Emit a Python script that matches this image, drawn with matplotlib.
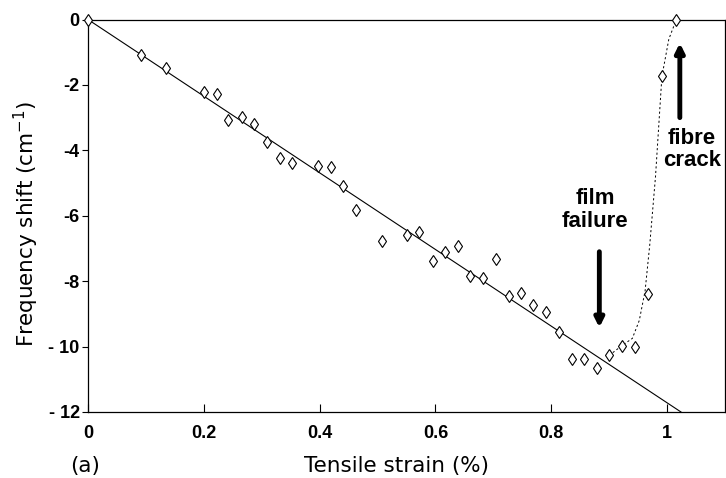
import matplotlib
matplotlib.use("Agg")
import matplotlib.pyplot as plt
import numpy as np

# measured Raman shift vs strain
strain = [0.0, 0.092, 0.135, 0.200, 0.223, 0.242, 0.266, 0.287, 0.309, 0.332,
          0.352, 0.397, 0.420, 0.440, 0.463, 0.508, 0.551, 0.572, 0.596, 0.617,
          0.639, 0.660, 0.682, 0.705, 0.727, 0.748, 0.769, 0.791, 0.813, 0.836,
          0.857, 0.879, 0.900, 0.922, 0.945, 0.967, 0.991, 1.016]
shift = [0.0, -1.08, -1.48, -2.21, -2.27, -3.07, -2.98, -3.19, -3.74, -4.23,
         -4.38, -4.47, -4.50, -5.08, -5.82, -6.76, -6.58, -6.49, -7.37, -7.10,
         -6.92, -7.83, -7.89, -7.31, -8.44, -8.35, -8.72, -8.93, -9.54, -10.37,
         -10.37, -10.67, -10.27, -9.97, -10.00, -8.38, -1.73, 0.0]

# straight line fit
fit_x = [0.0, 1.024]
fit_y = [0.0, -12.0]

# dotted curve after film failure
curve_x = [0.900, 0.922, 0.940, 0.952, 0.962, 0.970, 0.980, 0.991, 1.003, 1.016]
curve_y = [-10.27, -9.97, -9.75, -9.2, -8.3, -6.9, -4.8, -1.75, -0.6, 0.0]

xticks = [0, 0.2, 0.4, 0.6, 0.8, 1.0]
xticklabels = ["0", "0.2", "0.4", "0.6", "0.8", "1"]
yticks = [0, -2, -4, -6, -8, -10, -12]
yticklabels = ["0", "-2", "-4", "-6", "-8", "- 10", "- 12"]

fig = plt.figure(figsize=(7.26, 4.78), dpi=100)
ax = fig.add_axes([88 / 726, 1 - 412 / 478, 637 / 726, (412 - 19.5) / 478])

ax.plot(fit_x, fit_y, color="black", lw=0.8)
ax.plot(curve_x, curve_y, color="black", lw=0.7, linestyle=(0, (2.2, 2.5)))
ax.plot(strain, shift, linestyle="none", marker="d", ms=6.5,
        markerfacecolor="white", markeredgecolor="black", mew=0.8,
        clip_on=False, zorder=3)

ax.set_xlim(0, 1.1)
ax.set_ylim(-12, 0)
ax.set_xticks(xticks)
ax.set_xticklabels(xticklabels, fontsize=13, fontweight="bold",
                   family="Liberation Sans")
ax.set_yticks(yticks)
ax.set_yticklabels(yticklabels, fontsize=13, fontweight="bold",
                   family="Liberation Sans")
ax.tick_params(axis="x", direction="in", length=6, width=0.8, pad=9)
ax.tick_params(axis="y", direction="out", length=4, width=0.8, pad=2)
for s in ax.spines.values():
    s.set_linewidth(0.9)

# arrows and notes
arrow = dict(arrowstyle="-|>", lw=3.5, color="black", mutation_scale=13,
             shrinkA=0, shrinkB=0)
ax.annotate("", xy=(0.883, -9.42), xytext=(0.883, -7.1), arrowprops=arrow)
ax.annotate("", xy=(1.022, -0.72), xytext=(1.022, -3.0), arrowprops=arrow)
ax.text(0.876, -5.82, "film\nfailure", ha="center", va="center",
        fontsize=16, fontweight="bold", family="Liberation Sans",
        linespacing=1.1)
ax.text(1.043, -3.98, "fibre\ncrack", ha="center", va="center",
        fontsize=16, fontweight="bold", family="Liberation Sans",
        linespacing=1.1)

fig.text(397 / 726, 1 - 466 / 478, "Tensile strain (%)", ha="center",
         va="center", fontsize=15.5)
fig.text(85 / 726, 1 - 466 / 478, "(a)", ha="center", va="center",
         fontsize=15.5)
fig.text(26 / 726, 1 - 224 / 478, "Frequency shift (cm$^{-1}$)", ha="center",
         va="center", rotation=90, fontsize=15.5)

fig.savefig("out.png", dpi=100)
